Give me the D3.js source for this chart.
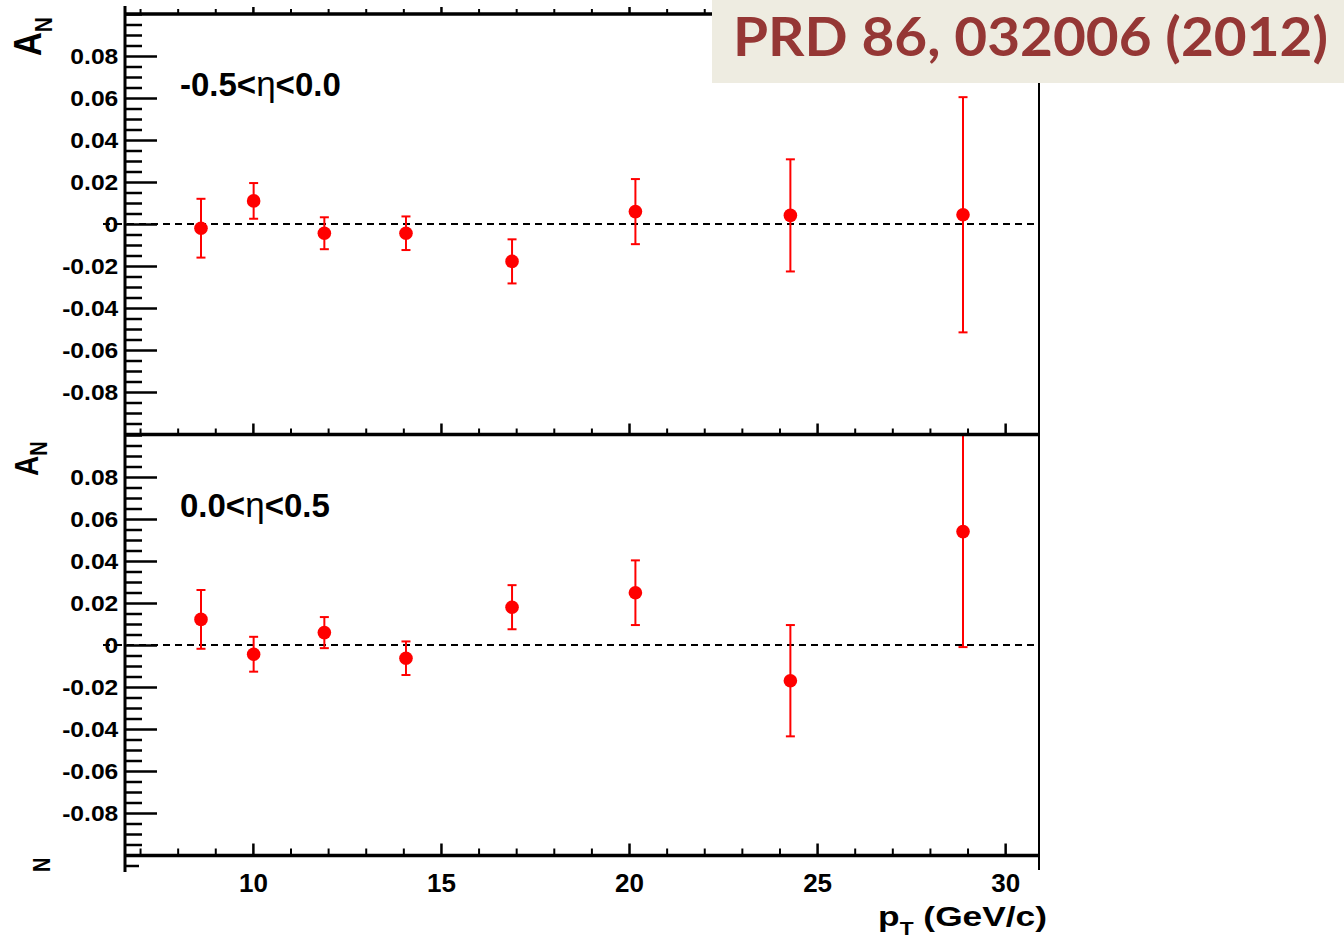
<!DOCTYPE html>
<html>
<head>
<meta charset="utf-8">
<script src="https://cdn.jsdelivr.net/npm/d3@7"></script>
<style>
  html, body { margin: 0; padding: 0; background: #fff; }
  svg { display: block; }
  text { font-family: "Liberation Sans", Arial, Helvetica, sans-serif; font-weight: bold; fill: #000; }
</style>
</head>
<body>
<svg id="chart" width="1344" height="940"></svg>
<script>
// pT bin centres (GeV/c)
const ptBins = [8.62, 10.02, 11.9, 14.07, 16.89, 20.17, 24.29, 28.88];

// A_N for -0.5 < eta < 0.0
const anNegEta  = [-0.0020, 0.0110, -0.0044, -0.0044, -0.0178, 0.0059, 0.0041, 0.0044];
const errNegEta = [ 0.0140, 0.0085,  0.0076,  0.0080,  0.0105, 0.0155, 0.0267, 0.0560];

// A_N for 0.0 < eta < 0.5
const anPosEta  = [ 0.0122, -0.0044, 0.0059, -0.0063, 0.0180, 0.0249, -0.0170, 0.0540];
const errPosEta = [ 0.0140,  0.0083, 0.0074,  0.0080, 0.0105, 0.0154,  0.0265, 0.0550];

const etaLabels = [["-0.5<", "η", "<0.0"], ["0.0<", "η", "<0.5"]];
const yTickValues = [-0.08, -0.06, -0.04, -0.02, 0, 0.02, 0.04, 0.06, 0.08];
const xTickValues = [10, 15, 20, 25, 30];
const citation = "PRD 86, 032006 (2012)";

const svg = d3.select("#chart");
const frameL = 125, frameR = 1039;
const x = d3.scaleLinear().domain([6.6, 30.9]).range([frameL, frameR]);

const yMinor = d3.range(-20, 21).map(k => +(k * 0.005).toFixed(3))
  .filter(v => !yTickValues.some(t => Math.abs(t - v) < 1e-9));
const xMinor = d3.range(7, 31).filter(v => !xTickValues.includes(v));

const panels = [
  { an: anNegEta, err: errNegEta, label: etaLabels[0], range: [434, 14] },
  { an: anPosEta, err: errPosEta, label: etaLabels[1], range: [855, 435] }
];

function styleAxis(g, width) {
  g.select(".domain").remove();
  g.selectAll(".tick line").attr("stroke", "#000").attr("stroke-width", width);
}

// horizontal axis line with ticks pointing up
function xTicks(yPos, major, minor, labels) {
  const gMin = svg.append("g").attr("transform", `translate(0,${yPos})`)
    .call(d3.axisBottom(x).tickValues(xMinor).tickSize(-minor).tickFormat(""));
  styleAxis(gMin, 2);
  const gMaj = svg.append("g").attr("transform", `translate(0,${yPos})`)
    .call(d3.axisBottom(x).tickValues(xTickValues).tickSize(-major)
      .tickPadding(18).tickFormat(labels ? d3.format("d") : ""));
  styleAxis(gMaj, 2.5);
  gMaj.selectAll("text").attr("font-size", 26);
  svg.append("line").attr("x1", frameL).attr("x2", frameR)
    .attr("y1", yPos).attr("y2", yPos)
    .attr("stroke", "#000").attr("stroke-width", 3.5);
}

panels.forEach(p => {
  const y = d3.scaleLinear().domain([-0.1, 0.1]).range(p.range);

  // y axis minor + major ticks pointing into the frame
  const gMin = svg.append("g").attr("transform", `translate(${frameL},0)`)
    .call(d3.axisLeft(y).tickValues(yMinor).tickSize(-17).tickFormat(""));
  styleAxis(gMin, 2.5);
  const gMaj = svg.append("g").attr("transform", `translate(${frameL},0)`)
    .call(d3.axisLeft(y).tickValues(yTickValues).tickSize(-32).tickPadding(6)
      .tickFormat(d => d === 0 ? "0" : d.toFixed(2)));
  styleAxis(gMaj, 2.5);
  gMaj.selectAll("text").attr("font-size", 22)
    .attr("transform", "scale(1.12,1)");

  // zero reference line
  svg.append("line")
    .attr("x1", frameL - 22).attr("x2", frameR)
    .attr("y1", y(0)).attr("y2", y(0))
    .attr("stroke", "#000").attr("stroke-width", 2)
    .attr("stroke-dasharray", "7,5");

  // error bars, clipped to the frame
  const pts = ptBins.map((pt, i) => ({ pt, v: p.an[i], e: p.err[i] }));
  const eb = svg.append("g").attr("stroke", "#ff0000").attr("stroke-width", 2);
  pts.forEach(d => {
    const lo = Math.max(d.v - d.e, -0.1), hi = Math.min(d.v + d.e, 0.1);
    const cx = x(d.pt);
    eb.append("line").attr("x1", cx).attr("x2", cx).attr("y1", y(lo)).attr("y2", y(hi));
    [lo, hi].forEach(b => eb.append("line")
      .attr("x1", cx - 4.5).attr("x2", cx + 4.5).attr("y1", y(b)).attr("y2", y(b)));
  });
  svg.append("g").selectAll("circle").data(pts).join("circle")
    .attr("cx", d => x(d.pt)).attr("cy", d => y(d.v)).attr("r", 6.8)
    .attr("fill", "#ff0000");

  // eta range label
  const t = svg.append("text")
    .attr("x", 180).attr("y", p.range[1] + 82).attr("font-size", 33);
  t.append("tspan").text(p.label[0]);
  t.append("tspan").style("font-weight", "normal").attr("font-size", 35).text(p.label[1]);
  t.append("tspan").text(p.label[2]);
});

// frame edges and x-axis tick rows
xTicks(14, 7, 5, false);
xTicks(434.5, 11, 6, false);
xTicks(855.5, 12, 7, true);

// left axis spine and right frame edge
svg.append("line").attr("x1", frameL).attr("x2", frameL).attr("y1", 6).attr("y2", 872)
  .attr("stroke", "#000").attr("stroke-width", 3);
svg.append("line").attr("x1", frameR).attr("x2", frameR).attr("y1", 14).attr("y2", 870)
  .attr("stroke", "#000").attr("stroke-width", 2);
// first tick of the next pad below
svg.append("line").attr("x1", frameL).attr("x2", frameL + 14).attr("y1", 866).attr("y2", 866)
  .attr("stroke", "#000").attr("stroke-width", 2.5);

// A_N axis titles
function anTitle(bx, by, fa, fn, sx) {
  const t = svg.append("text")
    .attr("transform", `translate(${bx},${by}) rotate(-90) scale(1,${sx})`)
    .attr("font-size", fa);
  t.append("tspan").text("A");
  t.append("tspan").attr("font-size", fn).attr("dy", fa * 0.28).text("N");
}
anTitle(41, 56, 33, 21, 1.17);
anTitle(38, 476, 28, 20, 1.2);
svg.append("text")
  .attr("transform", `translate(50,872) rotate(-90) scale(1,1.2)`)
  .attr("font-size", 20).text("N");

// x-axis title, right-aligned under the axis
const xt = svg.append("text").attr("font-size", 28).attr("text-anchor", "end");
xt.append("tspan").text("p");
xt.append("tspan").attr("font-size", 18).attr("dy", 9).text("T");
xt.append("tspan").attr("dy", -9).text(" (GeV/c)");
const xtw = xt.node().getComputedTextLength();
xt.attr("transform", `translate(1047,926) scale(${169 / xtw},1)`);

// citation box
svg.append("rect").attr("x", 712).attr("y", 0).attr("width", 632).attr("height", 83)
  .attr("fill", "#EEECE1");
svg.append("text")
  .attr("x", 733).attr("y", 56)
  .style("font-family", "Lato, 'Open Sans', sans-serif")
  .style("font-weight", "bold")
  .style("fill", "#953735")
  .attr("font-size", 54)
  .attr("textLength", 595).attr("lengthAdjust", "spacingAndGlyphs")
  .text(citation);
</script>
</body>
</html>
